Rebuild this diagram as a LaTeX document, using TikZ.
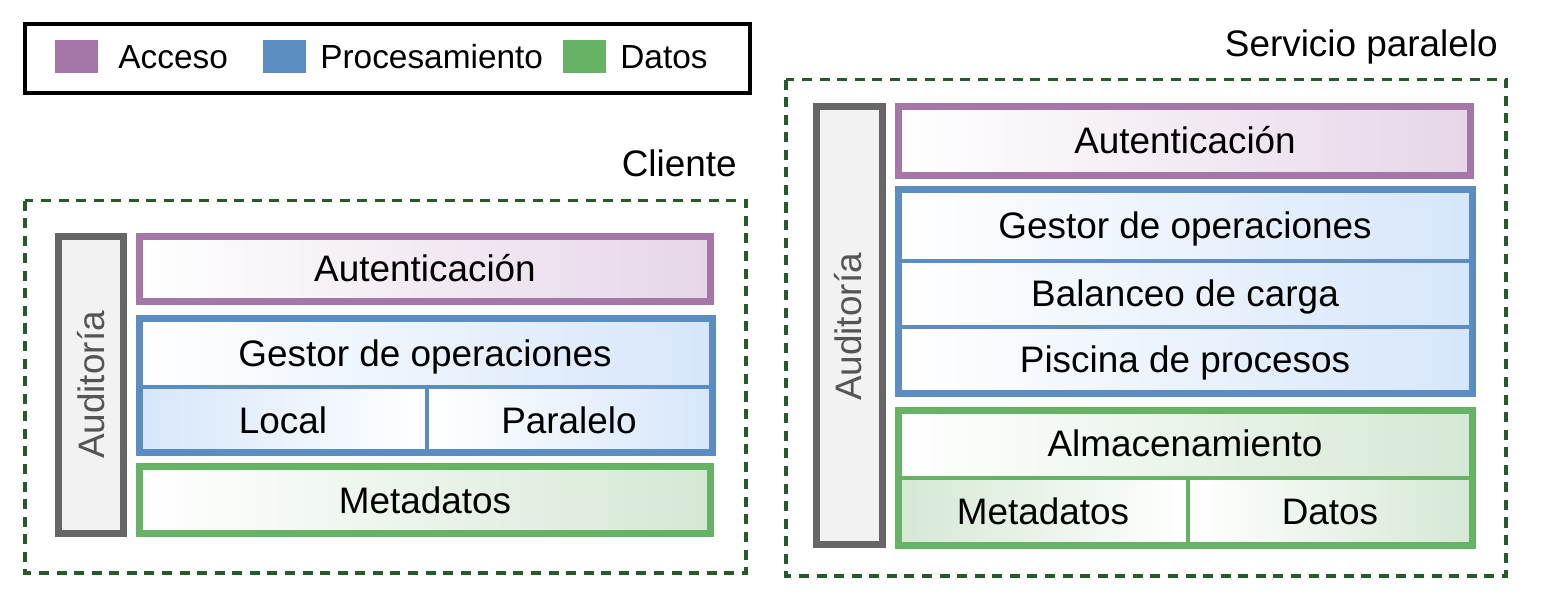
\documentclass[tikz,border=0pt]{standalone}
\usepackage{fontspec}
\setmainfont{Liberation Sans}
\usepackage{tikz}

\definecolor{acceso}{HTML}{A576A8}
\definecolor{accesoclaro}{HTML}{E6D6E8}
\definecolor{proceso}{HTML}{5B8DC3}
\definecolor{procesoclaro}{HTML}{D6E6FA}
\definecolor{datos}{HTML}{67B365}
\definecolor{datosclaro}{HTML}{D5E8D4}
\definecolor{auditoria}{HTML}{666666}
\definecolor{auditoriafondo}{HTML}{F2F2F2}
\definecolor{auditoriatexto}{HTML}{555555}
\definecolor{marco}{HTML}{255A2A}

\begin{document}
\begin{tikzpicture}[x=0.02cm,y=-0.02cm,
	lbl/.style={inner sep=0pt,text height=15pt,text depth=0pt,font=\fontsize{21}{25}\selectfont},
	leyenda/.style={inner sep=0pt,anchor=west,text height=13.6pt,text depth=0pt,font=\fontsize{19}{23}\selectfont},
	marcobox/.style={draw=marco,line width=2pt,dash pattern=on 5.7pt off 4.3pt},
	borde/.style={line width=4pt},
	divisor/.style={line width=2.5pt}]
	\useasboundingbox (0,0) rectangle (1542,612);
	
	% leyenda
	\draw[line width=2.6pt] (25,24) rectangle (750,93);
	\fill[acceso] (55,40) rectangle (98,73);
	\node[leyenda] (leyAcceso) at (118,57) {Acceso};
	\fill[proceso] (263,40) rectangle (306,73);
	\node[leyenda] (leyProceso) at (320,57) {Procesamiento};
	\fill[datos] (563,40) rectangle (606,73);
	\node[leyenda] (leyDatos) at (620,57) {Datos};
	
	% cliente
	\draw[marcobox] (25,200.5) rectangle (746,573);
	\node[lbl,anchor=east] (cliente) at (737,163) {Cliente};
	
	\draw[borde,draw=auditoria,fill=auditoriafondo] (58.5,236.5) rectangle (123.5,533.5);
	\node[lbl,rotate=90,text=auditoriatexto] (audCli) at (91,385) {Auditoría};
	
	\shade[left color=white,right color=accesoclaro] (139.5,236.5) rectangle (710.5,301.5);
	\draw[borde,draw=acceso] (139.5,236.5) rectangle (710.5,301.5);
	\node[lbl] (autCli) at (425,268) {Autenticación};
	
	\shade[left color=white,right color=procesoclaro] (139.5,318.5) rectangle (712.5,387);
	\shade[left color=procesoclaro,right color=white] (139.5,387) rectangle (427,452.5);
	\shade[left color=white,right color=procesoclaro] (427,387) rectangle (712.5,452.5);
	\draw[divisor,draw=proceso] (139.5,387) -- (712.5,387) (427,387) -- (427,452.5);
	\draw[borde,draw=proceso] (139.5,318.5) rectangle (712.5,452.5);
	\node[lbl] (gesCli) at (425,353) {Gestor de operaciones};
	\node[lbl] (locCli) at (283,420) {Local};
	\node[lbl] (parCli) at (569,420) {Paralelo};
	
	\shade[left color=white,right color=datosclaro] (139.5,466.5) rectangle (710.5,533.5);
	\draw[borde,draw=datos] (139.5,466.5) rectangle (710.5,533.5);
	\node[lbl] (metCli) at (425,500) {Metadatos};
	
	% servicio paralelo
	\draw[marcobox] (786,79.5) rectangle (1506,576);
	\node[lbl,anchor=east] (servicio) at (1498,43) {Servicio paralelo};
	
	\draw[borde,draw=auditoria,fill=auditoriafondo] (816.5,106.5) rectangle (882.5,544.5);
	\node[lbl,rotate=90,text=auditoriatexto] (audSer) at (848,327) {Auditoría};
	
	\shade[left color=white,right color=accesoclaro] (898.5,106.5) rectangle (1470.5,175.5);
	\draw[borde,draw=acceso] (898.5,106.5) rectangle (1470.5,175.5);
	\node[lbl] (autSer) at (1185,140) {Autenticación};
	
	\shade[left color=white,right color=procesoclaro] (898.5,189.5) rectangle (1472.5,393.5);
	\draw[divisor,draw=proceso] (898.5,261) -- (1472.5,261) (898.5,327) -- (1472.5,327);
	\draw[borde,draw=proceso] (898.5,189.5) rectangle (1472.5,393.5);
	\node[lbl] (gesSer) at (1185,225) {Gestor de operaciones};
	\node[lbl] (balSer) at (1185,293) {Balanceo de carga};
	\node[lbl] (pisSer) at (1185,359) {Piscina de procesos};
	
	\shade[left color=white,right color=datosclaro] (898.5,410.5) rectangle (1472.5,478);
	\shade[left color=datosclaro,right color=white] (898.5,478) rectangle (1188,545.5);
	\shade[left color=white,right color=datosclaro] (1188,478) rectangle (1472.5,545.5);
	\draw[divisor,draw=datos] (898.5,478) -- (1472.5,478) (1188,478) -- (1188,545.5);
	\draw[borde,draw=datos] (898.5,410.5) rectangle (1472.5,545.5);
	\node[lbl] (almSer) at (1185,443) {Almacenamiento};
	\node[lbl] (metSer) at (1043,511) {Metadatos};
	\node[lbl] (datSer) at (1330,511) {Datos};
	
\end{tikzpicture}
\end{document}
